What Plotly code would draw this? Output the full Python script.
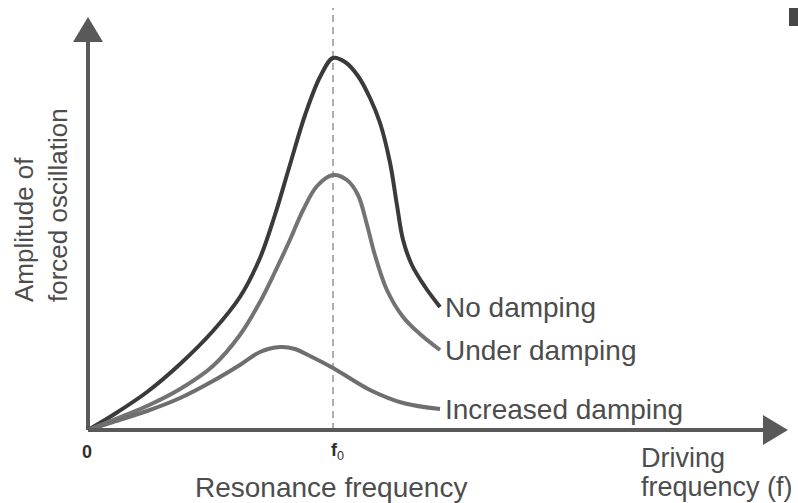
import plotly.graph_objects as go

# Driving frequency as a ratio f / f0, amplitude in arbitrary units
no_damp_f = [0, 0.102, 0.241, 0.376, 0.510, 0.620, 0.702, 0.763, 0.824, 0.886, 0.947, 1.0,
             1.049, 1.102, 1.151, 1.192, 1.233, 1.261, 1.286, 1.322, 1.376, 1.437]
no_damp_a = [0, 0.15, 0.38, 0.66, 0.99, 1.33, 1.72, 2.15, 2.65, 3.15, 3.53, 3.72,
             3.68, 3.54, 3.32, 3.07, 2.67, 2.25, 1.90, 1.65, 1.43, 1.23]

under_damp_f = [0, 0.102, 0.241, 0.376, 0.510, 0.620, 0.702, 0.763, 0.824, 0.878, 0.935, 1.0,
                1.057, 1.102, 1.139, 1.171, 1.220, 1.286, 1.355, 1.437]
under_damp_a = [0, 0.10, 0.24, 0.41, 0.64, 0.95, 1.28, 1.58, 1.90, 2.20, 2.44, 2.55,
                2.50, 2.35, 2.05, 1.75, 1.40, 1.13, 0.96, 0.80]

inc_damp_f = [0, 0.102, 0.241, 0.376, 0.510, 0.620, 0.702, 0.784, 0.845, 0.906, 1.0,
              1.151, 1.286, 1.437]
inc_damp_a = [0, 0.08, 0.19, 0.32, 0.49, 0.65, 0.78, 0.83, 0.81, 0.74, 0.62,
              0.40, 0.27, 0.21]

series_names = ["No damping", "Under damping", "Increased damping"]
F0 = 1.0

# layout geometry (data units)
X_RANGE = [-0.3592, 2.898]
Y_RANGE = [-0.73, 4.30]
PX_X = (X_RANGE[1] - X_RANGE[0]) / 798.0
PX_Y = (Y_RANGE[1] - Y_RANGE[0]) / 503.0
X_AXIS_END = 2.857
Y_AXIS_END = 4.13
HEAD_LEN = 25
HEAD_HALF = 15

AXIS_COLOR = "#595959"
TEXT_COLOR = "#4d4d4d"
FONT = "Liberation Sans, Arial, Helvetica, sans-serif"
LABEL_SIZE = 28

fig = go.Figure()

curves = [
    (no_damp_f, no_damp_a, "#3a3a3a"),
    (under_damp_f, under_damp_a, "#737373"),
    (inc_damp_f, inc_damp_a, "#6e6e6e"),
]
for (fx, fy, col), name in zip(curves, series_names):
    fig.add_trace(go.Scatter(x=fx, y=fy, mode="lines", name=name,
                             line=dict(color=col, width=4, shape="spline", smoothing=1.0),
                             hoverinfo="skip", showlegend=False))
    fig.add_annotation(x=fx[-1], y=fy[-1], text=name, showarrow=False,
                       xanchor="left", yanchor="middle", xshift=3,
                       font=dict(family=FONT, size=LABEL_SIZE, color=TEXT_COLOR))

shapes = []
# resonance marker
shapes.append(dict(type="line", x0=F0, x1=F0, y0=0, y1=Y_RANGE[1] - 8 * PX_Y,
                   line=dict(color="#7a7a7a", width=1.2, dash="7px,5px"), layer="below"))
# vertical axis with arrowhead
yb = Y_AXIS_END - HEAD_LEN * PX_Y
shapes.append(dict(type="line", x0=0, x1=0, y0=0, y1=yb + 2 * PX_Y,
                   line=dict(color=AXIS_COLOR, width=4)))
shapes.append(dict(type="path",
                   path=f"M {-HEAD_HALF*PX_X} {yb} L 0 {Y_AXIS_END} L {HEAD_HALF*PX_X} {yb} Z",
                   fillcolor=AXIS_COLOR, line=dict(width=0)))
# horizontal axis with arrowhead
xb = X_AXIS_END - HEAD_LEN * PX_X
shapes.append(dict(type="line", x0=0, x1=xb + 2 * PX_X, y0=0, y1=0,
                   line=dict(color=AXIS_COLOR, width=4)))
shapes.append(dict(type="path",
                   path=f"M {xb} {-HEAD_HALF*PX_Y} L {X_AXIS_END} 0 L {xb} {HEAD_HALF*PX_Y} Z",
                   fillcolor=AXIS_COLOR, line=dict(width=0)))
# small dark block at the top-right edge
shapes.append(dict(type="rect", xref="paper", yref="paper",
                   x0=789 / 798, x1=1.0, y0=1 - 26 / 503, y1=1 - 8 / 503,
                   fillcolor="#474747", line=dict(width=0)))

fig.update_layout(shapes=shapes)

# tick-like labels on the frequency axis
fig.add_annotation(x=0, y=0, text="<b>0</b>", showarrow=False, yanchor="top", yshift=-10,
                   xshift=-1, font=dict(family=FONT, size=18, color="#2e2e2e"))
fig.add_annotation(x=F0, y=0, text="<b>f</b><sub>0</sub>", showarrow=False, yanchor="top",
                   yshift=-8, xshift=4, font=dict(family=FONT, size=18, color="#2e2e2e"))

# axis titles
fig.add_annotation(x=F0, y=0, text="Resonance frequency", showarrow=False,
                   yanchor="middle", yshift=-57, xshift=-2,
                   font=dict(family=FONT, size=LABEL_SIZE, color=TEXT_COLOR))
fig.add_annotation(xref="paper", yref="paper", x=639 / 798, y=1 - 458 / 503,
                   text="Driving", showarrow=False,
                   xanchor="left", yanchor="middle",
                   font=dict(family=FONT, size=27, color=TEXT_COLOR))
fig.add_annotation(xref="paper", yref="paper", x=639 / 798, y=1 - 487 / 503,
                   text="frequency (f)", showarrow=False,
                   xanchor="left", yanchor="middle",
                   font=dict(family=FONT, size=27, color=TEXT_COLOR))
fig.add_annotation(xref="paper", yref="paper", x=41 / 798, y=1 - 304 / 503,
                   text="Amplitude of<br>forced oscillation", showarrow=False,
                   textangle=-90, align="left", xanchor="center", yanchor="bottom",
                   font=dict(family=FONT, size=26, color=TEXT_COLOR))

fig.update_layout(
    width=798, height=503,
    margin=dict(l=0, r=0, t=0, b=0),
    paper_bgcolor="white", plot_bgcolor="white",
    xaxis=dict(range=X_RANGE, visible=False, fixedrange=True),
    yaxis=dict(range=Y_RANGE, visible=False, fixedrange=True),
)

fig.write_html("out.html")
